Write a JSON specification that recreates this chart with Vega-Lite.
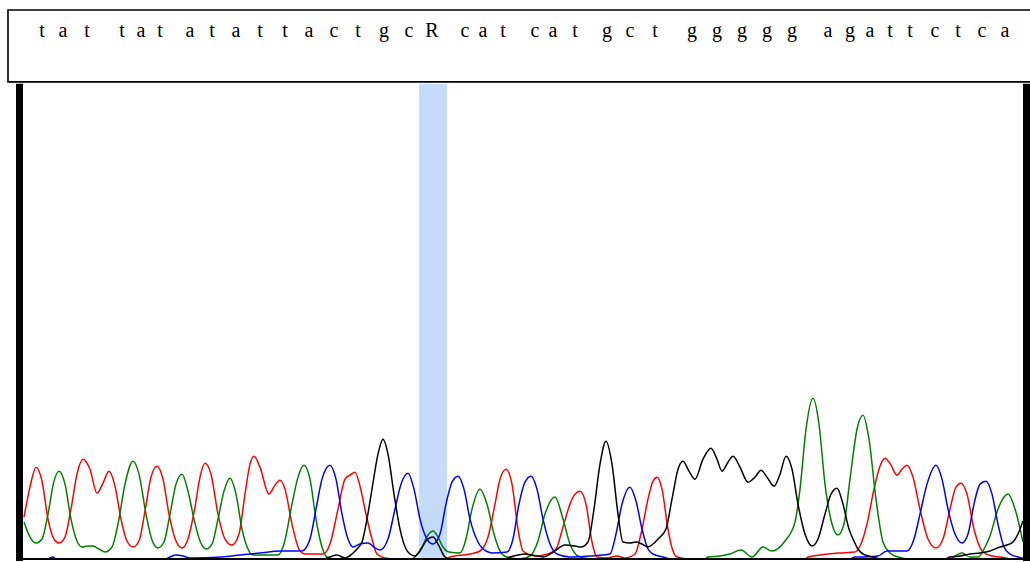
{
  "$schema": "https://vega.github.io/schema/vega-lite/v6.json",
  "width": 1030,
  "height": 562,
  "autosize": {"type": "fit", "contains": "padding"},
  "padding": 0,
  "background": "white",
  "config": {"view": {"stroke": null}},
  "datasets": {
    "box": [{"x": 8, "x2": 1040, "y": 478, "y2": 550}],
    "hl": [{"x": 419, "x2": 447, "y": 0, "y2": 476}],
    "bars": [{"x": 16, "x2": 23, "y": -2, "y2": 476}, {"x": 1023, "x2": 1031, "y": -2, "y2": 476}],
    "axis": [{"x": 23, "x2": 1023, "y": 0}],
    "letters": [
      {"l": "t", "x": 42}, {"l": "a", "x": 63}, {"l": "t", "x": 87},
      {"l": "t", "x": 122}, {"l": "a", "x": 141}, {"l": "t", "x": 160},
      {"l": "a", "x": 190}, {"l": "t", "x": 212}, {"l": "a", "x": 236}, {"l": "t", "x": 260}, {"l": "t", "x": 285}, {"l": "a", "x": 309}, {"l": "c", "x": 334}, {"l": "t", "x": 358}, {"l": "g", "x": 384}, {"l": "c", "x": 409}, {"l": "R", "x": 432},
      {"l": "c", "x": 465}, {"l": "a", "x": 483}, {"l": "t", "x": 503},
      {"l": "c", "x": 535}, {"l": "a", "x": 553}, {"l": "t", "x": 575},
      {"l": "g", "x": 607}, {"l": "c", "x": 630}, {"l": "t", "x": 655},
      {"l": "g", "x": 692}, {"l": "g", "x": 717}, {"l": "g", "x": 742}, {"l": "g", "x": 767}, {"l": "g", "x": 792},
      {"l": "a", "x": 828}, {"l": "g", "x": 850}, {"l": "a", "x": 870}, {"l": "t", "x": 890}, {"l": "t", "x": 910}, {"l": "c", "x": 935}, {"l": "t", "x": 958}, {"l": "c", "x": 982}, {"l": "a", "x": 1005}
    ],
    "trace": [
      {"b":"T","x":24,"v":42},{"b":"T","x":30,"v":72},{"b":"T","x":36,"v":92},{"b":"T","x":42,"v":78},{"b":"T","x":48,"v":40},{"b":"T","x":54,"v":20},{"b":"T","x":59,"v":16},{"b":"T","x":65,"v":22},{"b":"T","x":71,"v":50},{"b":"T","x":77,"v":85},{"b":"T","x":83,"v":100},{"b":"T","x":90,"v":90},{"b":"T","x":97,"v":66},{"b":"T","x":103,"v":76},{"b":"T","x":109,"v":88},{"b":"T","x":115,"v":73},{"b":"T","x":121,"v":40},{"b":"T","x":127,"v":18},{"b":"T","x":133,"v":12},{"b":"T","x":139,"v":18},{"b":"T","x":145,"v":48},{"b":"T","x":151,"v":82},{"b":"T","x":157,"v":93},{"b":"T","x":163,"v":80},{"b":"T","x":169,"v":45},{"b":"T","x":176,"v":18},{"b":"T","x":182,"v":11},{"b":"T","x":188,"v":20},{"b":"T","x":195,"v":52},{"b":"T","x":200,"v":82},{"b":"T","x":205,"v":96},{"b":"T","x":211,"v":85},{"b":"T","x":218,"v":45},{"b":"T","x":225,"v":20},{"b":"T","x":232,"v":14},{"b":"T","x":239,"v":25},{"b":"T","x":245,"v":65},{"b":"T","x":250,"v":95},{"b":"T","x":254,"v":103},{"b":"T","x":260,"v":92},{"b":"T","x":269,"v":65},{"b":"T","x":275,"v":74},{"b":"T","x":280,"v":79},{"b":"T","x":285,"v":70},{"b":"T","x":292,"v":35},{"b":"T","x":299,"v":10},{"b":"T","x":305,"v":5},{"b":"T","x":323,"v":5},{"b":"T","x":330,"v":15},{"b":"T","x":338,"v":50},{"b":"T","x":345,"v":80},{"b":"T","x":350,"v":84},{"b":"T","x":355,"v":87},{"b":"T","x":360,"v":73},{"b":"T","x":366,"v":45},{"b":"T","x":372,"v":20},{"b":"T","x":377,"v":5},{"b":"T","x":385,"v":1},{"b":"T","x":395,"v":0},{"b":"T","x":445,"v":0},{"b":"T","x":450,"v":2},{"b":"T","x":470,"v":5},{"b":"T","x":480,"v":8},{"b":"T","x":488,"v":22},{"b":"T","x":495,"v":55},{"b":"T","x":500,"v":80},{"b":"T","x":506,"v":90},{"b":"T","x":512,"v":75},{"b":"T","x":518,"v":30},{"b":"T","x":523,"v":8},{"b":"T","x":535,"v":3},{"b":"T","x":548,"v":5},{"b":"T","x":556,"v":10},{"b":"T","x":563,"v":32},{"b":"T","x":570,"v":55},{"b":"T","x":575,"v":65},{"b":"T","x":580,"v":68},{"b":"T","x":586,"v":55},{"b":"T","x":592,"v":17},{"b":"T","x":597,"v":2},{"b":"T","x":607,"v":1},{"b":"T","x":617,"v":3},{"b":"T","x":625,"v":1},{"b":"T","x":635,"v":5},{"b":"T","x":642,"v":30},{"b":"T","x":648,"v":60},{"b":"T","x":653,"v":78},{"b":"T","x":657,"v":82},{"b":"T","x":662,"v":70},{"b":"T","x":668,"v":30},{"b":"T","x":673,"v":8},{"b":"T","x":677,"v":2},{"b":"T","x":690,"v":0},{"b":"T","x":805,"v":0},{"b":"T","x":808,"v":2},{"b":"T","x":820,"v":4},{"b":"T","x":840,"v":6},{"b":"T","x":855,"v":7},{"b":"T","x":860,"v":13},{"b":"T","x":867,"v":35},{"b":"T","x":874,"v":70},{"b":"T","x":880,"v":93},{"b":"T","x":885,"v":101},{"b":"T","x":891,"v":94},{"b":"T","x":897,"v":84},{"b":"T","x":902,"v":90},{"b":"T","x":907,"v":94},{"b":"T","x":913,"v":82},{"b":"T","x":920,"v":50},{"b":"T","x":928,"v":20},{"b":"T","x":936,"v":11},{"b":"T","x":943,"v":20},{"b":"T","x":950,"v":50},{"b":"T","x":956,"v":72},{"b":"T","x":961,"v":76},{"b":"T","x":967,"v":65},{"b":"T","x":974,"v":30},{"b":"T","x":983,"v":7},{"b":"T","x":992,"v":3},{"b":"T","x":1000,"v":2},{"b":"T","x":1010,"v":0},
      {"b":"A","x":24,"v":37},{"b":"A","x":30,"v":22},{"b":"A","x":36,"v":16},{"b":"A","x":42,"v":20},{"b":"A","x":48,"v":45},{"b":"A","x":54,"v":78},{"b":"A","x":59,"v":88},{"b":"A","x":65,"v":75},{"b":"A","x":71,"v":40},{"b":"A","x":77,"v":18},{"b":"A","x":82,"v":12},{"b":"A","x":88,"v":13},{"b":"A","x":93,"v":13},{"b":"A","x":99,"v":10},{"b":"A","x":105,"v":7},{"b":"A","x":112,"v":12},{"b":"A","x":118,"v":35},{"b":"A","x":125,"v":75},{"b":"A","x":133,"v":98},{"b":"A","x":139,"v":85},{"b":"A","x":146,"v":45},{"b":"A","x":152,"v":19},{"b":"A","x":158,"v":11},{"b":"A","x":164,"v":17},{"b":"A","x":170,"v":45},{"b":"A","x":176,"v":75},{"b":"A","x":182,"v":85},{"b":"A","x":188,"v":68},{"b":"A","x":194,"v":40},{"b":"A","x":200,"v":18},{"b":"A","x":206,"v":10},{"b":"A","x":212,"v":15},{"b":"A","x":218,"v":40},{"b":"A","x":224,"v":68},{"b":"A","x":230,"v":81},{"b":"A","x":236,"v":65},{"b":"A","x":242,"v":30},{"b":"A","x":248,"v":10},{"b":"A","x":253,"v":4},{"b":"A","x":278,"v":4},{"b":"A","x":284,"v":15},{"b":"A","x":292,"v":55},{"b":"A","x":298,"v":82},{"b":"A","x":304,"v":94},{"b":"A","x":310,"v":80},{"b":"A","x":316,"v":40},{"b":"A","x":322,"v":12},{"b":"A","x":327,"v":2},{"b":"A","x":335,"v":0},{"b":"A","x":410,"v":0},{"b":"A","x":415,"v":2},{"b":"A","x":422,"v":12},{"b":"A","x":428,"v":24},{"b":"A","x":433,"v":28},{"b":"A","x":438,"v":22},{"b":"A","x":443,"v":12},{"b":"A","x":449,"v":7},{"b":"A","x":460,"v":6},{"b":"A","x":466,"v":20},{"b":"A","x":472,"v":50},{"b":"A","x":480,"v":70},{"b":"A","x":487,"v":55},{"b":"A","x":494,"v":25},{"b":"A","x":500,"v":8},{"b":"A","x":507,"v":2},{"b":"A","x":520,"v":0},{"b":"A","x":530,"v":3},{"b":"A","x":538,"v":18},{"b":"A","x":545,"v":45},{"b":"A","x":555,"v":62},{"b":"A","x":563,"v":40},{"b":"A","x":570,"v":15},{"b":"A","x":578,"v":3},{"b":"A","x":590,"v":0},{"b":"A","x":705,"v":0},{"b":"A","x":708,"v":2},{"b":"A","x":720,"v":3},{"b":"A","x":730,"v":5},{"b":"A","x":741,"v":9},{"b":"A","x":752,"v":2},{"b":"A","x":763,"v":12},{"b":"A","x":772,"v":8},{"b":"A","x":785,"v":18},{"b":"A","x":795,"v":37},{"b":"A","x":800,"v":70},{"b":"A","x":806,"v":130},{"b":"A","x":813,"v":161},{"b":"A","x":819,"v":135},{"b":"A","x":825,"v":75},{"b":"A","x":832,"v":35},{"b":"A","x":838,"v":24},{"b":"A","x":844,"v":35},{"b":"A","x":850,"v":80},{"b":"A","x":857,"v":130},{"b":"A","x":863,"v":144},{"b":"A","x":869,"v":120},{"b":"A","x":876,"v":60},{"b":"A","x":883,"v":17},{"b":"A","x":890,"v":6},{"b":"A","x":898,"v":2},{"b":"A","x":910,"v":0},{"b":"A","x":950,"v":0},{"b":"A","x":955,"v":3},{"b":"A","x":962,"v":6},{"b":"A","x":970,"v":2},{"b":"A","x":978,"v":2},{"b":"A","x":984,"v":10},{"b":"A","x":990,"v":23},{"b":"A","x":998,"v":50},{"b":"A","x":1008,"v":65},{"b":"A","x":1015,"v":50},{"b":"A","x":1023,"v":17},
      {"b":"C","x":48,"v":0},{"b":"C","x":50,"v":1},{"b":"C","x":53,"v":2},{"b":"C","x":56,"v":0},{"b":"C","x":165,"v":0},{"b":"C","x":170,"v":2},{"b":"C","x":176,"v":4},{"b":"C","x":183,"v":3},{"b":"C","x":190,"v":1},{"b":"C","x":222,"v":2},{"b":"C","x":240,"v":4},{"b":"C","x":260,"v":6},{"b":"C","x":280,"v":8},{"b":"C","x":302,"v":8},{"b":"C","x":310,"v":20},{"b":"C","x":316,"v":50},{"b":"C","x":322,"v":80},{"b":"C","x":330,"v":94},{"b":"C","x":336,"v":80},{"b":"C","x":342,"v":45},{"b":"C","x":348,"v":20},{"b":"C","x":353,"v":12},{"b":"C","x":360,"v":15},{"b":"C","x":368,"v":16},{"b":"C","x":374,"v":12},{"b":"C","x":380,"v":9},{"b":"C","x":388,"v":20},{"b":"C","x":395,"v":50},{"b":"C","x":401,"v":75},{"b":"C","x":408,"v":86},{"b":"C","x":414,"v":70},{"b":"C","x":420,"v":40},{"b":"C","x":427,"v":20},{"b":"C","x":433,"v":15},{"b":"C","x":440,"v":25},{"b":"C","x":446,"v":55},{"b":"C","x":452,"v":77},{"b":"C","x":458,"v":83},{"b":"C","x":464,"v":70},{"b":"C","x":470,"v":40},{"b":"C","x":478,"v":17},{"b":"C","x":486,"v":8},{"b":"C","x":493,"v":6},{"b":"C","x":507,"v":7},{"b":"C","x":513,"v":20},{"b":"C","x":519,"v":55},{"b":"C","x":525,"v":77},{"b":"C","x":531,"v":83},{"b":"C","x":537,"v":70},{"b":"C","x":543,"v":40},{"b":"C","x":550,"v":15},{"b":"C","x":557,"v":5},{"b":"C","x":570,"v":2},{"b":"C","x":590,"v":3},{"b":"C","x":610,"v":5},{"b":"C","x":616,"v":25},{"b":"C","x":622,"v":55},{"b":"C","x":630,"v":72},{"b":"C","x":636,"v":58},{"b":"C","x":642,"v":30},{"b":"C","x":648,"v":10},{"b":"C","x":653,"v":5},{"b":"C","x":663,"v":2},{"b":"C","x":670,"v":0},{"b":"C","x":850,"v":0},{"b":"C","x":855,"v":2},{"b":"C","x":863,"v":2},{"b":"C","x":878,"v":3},{"b":"C","x":887,"v":8},{"b":"C","x":907,"v":8},{"b":"C","x":914,"v":20},{"b":"C","x":920,"v":45},{"b":"C","x":927,"v":75},{"b":"C","x":936,"v":94},{"b":"C","x":942,"v":80},{"b":"C","x":948,"v":50},{"b":"C","x":955,"v":25},{"b":"C","x":962,"v":16},{"b":"C","x":968,"v":25},{"b":"C","x":974,"v":55},{"b":"C","x":980,"v":75},{"b":"C","x":986,"v":78},{"b":"C","x":992,"v":65},{"b":"C","x":998,"v":35},{"b":"C","x":1004,"v":12},{"b":"C","x":1010,"v":5},{"b":"C","x":1018,"v":2},{"b":"C","x":1025,"v":0},
      {"b":"G","x":325,"v":0},{"b":"G","x":330,"v":2},{"b":"G","x":337,"v":4},{"b":"G","x":345,"v":1},{"b":"G","x":352,"v":5},{"b":"G","x":357,"v":10},{"b":"G","x":362,"v":17},{"b":"G","x":367,"v":40},{"b":"G","x":372,"v":70},{"b":"G","x":378,"v":105},{"b":"G","x":383,"v":120},{"b":"G","x":388,"v":105},{"b":"G","x":394,"v":65},{"b":"G","x":400,"v":30},{"b":"G","x":406,"v":10},{"b":"G","x":410,"v":5},{"b":"G","x":415,"v":3},{"b":"G","x":420,"v":8},{"b":"G","x":426,"v":18},{"b":"G","x":433,"v":22},{"b":"G","x":438,"v":15},{"b":"G","x":445,"v":2},{"b":"G","x":450,"v":0},{"b":"G","x":505,"v":0},{"b":"G","x":510,"v":2},{"b":"G","x":518,"v":4},{"b":"G","x":525,"v":5},{"b":"G","x":532,"v":4},{"b":"G","x":543,"v":2},{"b":"G","x":552,"v":6},{"b":"G","x":565,"v":14},{"b":"G","x":575,"v":13},{"b":"G","x":581,"v":12},{"b":"G","x":588,"v":17},{"b":"G","x":594,"v":50},{"b":"G","x":600,"v":95},{"b":"G","x":606,"v":118},{"b":"G","x":612,"v":95},{"b":"G","x":618,"v":45},{"b":"G","x":623,"v":17},{"b":"G","x":630,"v":16},{"b":"G","x":636,"v":17},{"b":"G","x":642,"v":15},{"b":"G","x":648,"v":12},{"b":"G","x":653,"v":15},{"b":"G","x":658,"v":20},{"b":"G","x":666,"v":30},{"b":"G","x":672,"v":60},{"b":"G","x":678,"v":90},{"b":"G","x":683,"v":98},{"b":"G","x":689,"v":88},{"b":"G","x":695,"v":80},{"b":"G","x":703,"v":100},{"b":"G","x":711,"v":111},{"b":"G","x":717,"v":100},{"b":"G","x":722,"v":88},{"b":"G","x":728,"v":97},{"b":"G","x":733,"v":103},{"b":"G","x":740,"v":92},{"b":"G","x":748,"v":77},{"b":"G","x":755,"v":82},{"b":"G","x":761,"v":89},{"b":"G","x":767,"v":82},{"b":"G","x":774,"v":73},{"b":"G","x":780,"v":85},{"b":"G","x":786,"v":103},{"b":"G","x":792,"v":90},{"b":"G","x":798,"v":55},{"b":"G","x":805,"v":25},{"b":"G","x":812,"v":13},{"b":"G","x":818,"v":20},{"b":"G","x":825,"v":45},{"b":"G","x":831,"v":65},{"b":"G","x":837,"v":71},{"b":"G","x":843,"v":55},{"b":"G","x":849,"v":30},{"b":"G","x":853,"v":20},{"b":"G","x":858,"v":10},{"b":"G","x":863,"v":5},{"b":"G","x":873,"v":2},{"b":"G","x":880,"v":0},{"b":"G","x":945,"v":0},{"b":"G","x":950,"v":2},{"b":"G","x":960,"v":3},{"b":"G","x":970,"v":5},{"b":"G","x":980,"v":6},{"b":"G","x":990,"v":8},{"b":"G","x":1000,"v":12},{"b":"G","x":1007,"v":14},{"b":"G","x":1013,"v":17},{"b":"G","x":1018,"v":25},{"b":"G","x":1023,"v":38}
    ]
  },
  "layer": [
    {
      "data": {"name": "box"},
      "mark": {"type": "rect", "fill": "white", "stroke": "black", "strokeWidth": 1.6, "clip": true},
      "encoding": {
        "x": {"field": "x", "type": "quantitative", "scale": {"domain": [0, 1030], "nice": false, "zero": false}, "axis": null},
        "x2": {"field": "x2"},
        "y": {"field": "y", "type": "quantitative", "scale": {"domain": [-2, 560], "nice": false, "zero": false}, "axis": null},
        "y2": {"field": "y2"}
      }
    },
    {
      "data": {"name": "hl"},
      "mark": {"type": "rect", "fill": "#c4dbfb"},
      "encoding": {
        "x": {"field": "x", "type": "quantitative", "scale": {"domain": [0, 1030], "nice": false, "zero": false}, "axis": null},
        "x2": {"field": "x2"},
        "y": {"field": "y", "type": "quantitative", "scale": {"domain": [-2, 560], "nice": false, "zero": false}, "axis": null},
        "y2": {"field": "y2"}
      }
    },
    {
      "data": {"name": "trace"},
      "mark": {"type": "line", "interpolate": "monotone", "strokeWidth": 1.5},
      "encoding": {
        "x": {"field": "x", "type": "quantitative", "scale": {"domain": [0, 1030], "nice": false, "zero": false}, "axis": null},
        "y": {"field": "v", "type": "quantitative", "scale": {"domain": [-2, 560], "nice": false, "zero": false}, "axis": null},
        "color": {"field": "b", "type": "nominal", "scale": {"domain": ["A", "C", "G", "T"], "range": ["#008000", "#0000ff", "#000000", "#ff0000"]}, "legend": null}
      }
    },
    {
      "data": {"name": "bars"},
      "mark": {"type": "rect", "fill": "black", "clip": true},
      "encoding": {
        "x": {"field": "x", "type": "quantitative", "scale": {"domain": [0, 1030], "nice": false, "zero": false}, "axis": null},
        "x2": {"field": "x2"},
        "y": {"field": "y", "type": "quantitative", "scale": {"domain": [-2, 560], "nice": false, "zero": false}, "axis": null},
        "y2": {"field": "y2"}
      }
    },
    {
      "data": {"name": "axis"},
      "mark": {"type": "rule", "stroke": "black", "strokeWidth": 2},
      "encoding": {
        "x": {"field": "x", "type": "quantitative", "scale": {"domain": [0, 1030], "nice": false, "zero": false}, "axis": null},
        "x2": {"field": "x2"},
        "y": {"field": "y", "type": "quantitative", "scale": {"domain": [-2, 560], "nice": false, "zero": false}, "axis": null}
      }
    },
    {
      "data": {"name": "letters"},
      "mark": {"type": "text", "font": "Liberation Serif", "fontSize": 20, "baseline": "alphabetic", "align": "center", "color": "black"},
      "encoding": {
        "x": {"field": "x", "type": "quantitative", "scale": {"domain": [0, 1030], "nice": false, "zero": false}, "axis": null},
        "y": {"datum": 523, "type": "quantitative", "scale": {"domain": [-2, 560], "nice": false, "zero": false}, "axis": null},
        "text": {"field": "l"}
      }
    }
  ]
}
